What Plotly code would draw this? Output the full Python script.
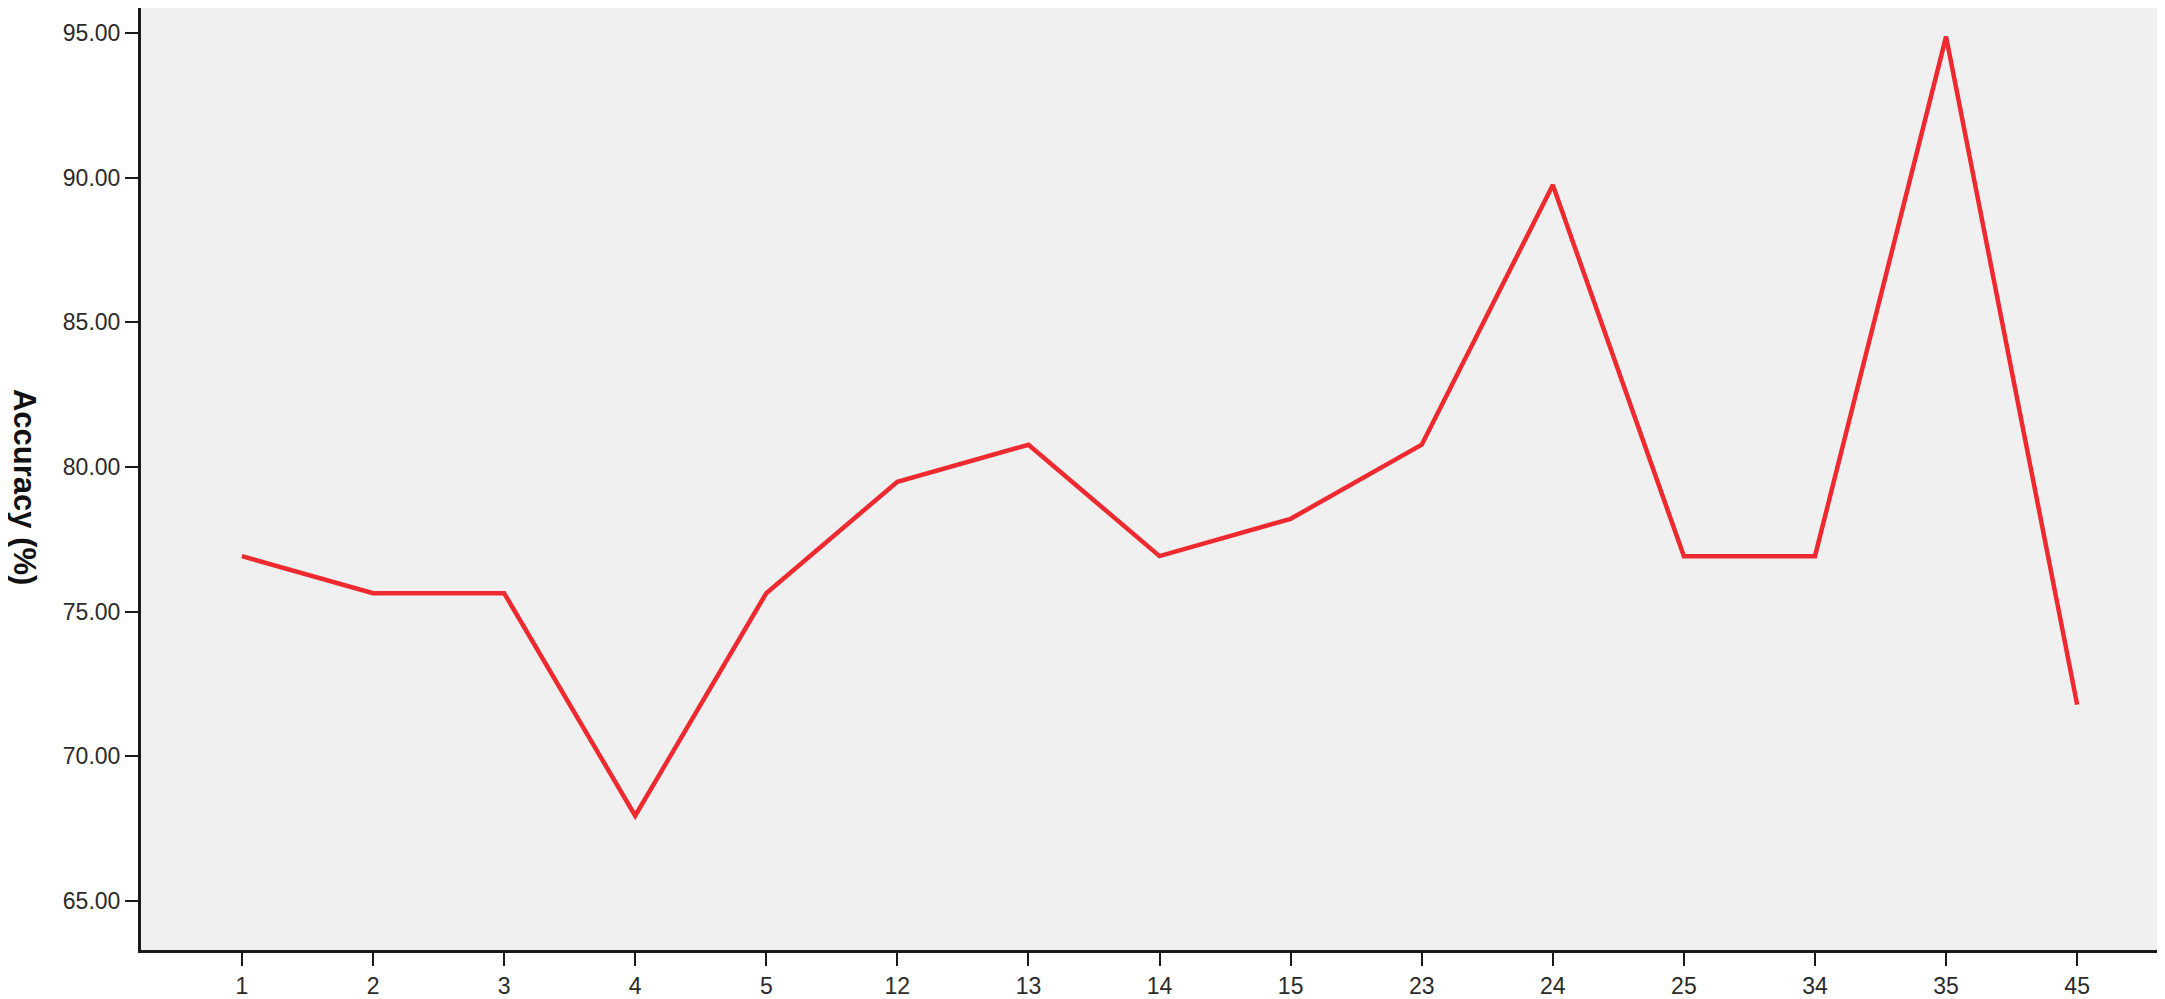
import plotly.graph_objects as go

# category labels on the x axis and accuracy values
categories = ["1", "2", "3", "4", "5", "12", "13", "14", "15", "23", "24", "25", "34", "35", "45"]
accuracy = [76.92, 75.64, 75.64, 67.95, 75.64, 79.49, 80.77, 76.92, 78.21, 80.77, 89.74, 76.92, 76.92, 94.87, 71.79]
y_ticks = [65, 70, 75, 80, 85, 90, 95]

fig = go.Figure()

fig.add_trace(go.Scatter(
    x=categories,
    y=accuracy,
    mode="lines",
    line=dict(color="#ee2a30", width=4.5),
    showlegend=False,
))

# the page body adds an 8px margin, so the figure is a little smaller than the window
fig.update_layout(
    width=2157,
    height=991,
    margin=dict(l=133, r=0, t=0, b=47),
    paper_bgcolor="white",
    plot_bgcolor="#f0f0f0",
    font=dict(family="Liberation Sans, Arial, sans-serif", size=23, color="#2a2a2a"),
)

axis_style = dict(
    showgrid=False,
    zeroline=False,
    showline=True,
    linecolor="#1a1a1a",
    linewidth=3,
    ticks="outside",
    ticklen=13,
    tickwidth=2,
    tickcolor="#1a1a1a",
    tickfont=dict(size=23),
)

fig.update_xaxes(type="category", range=[-0.77, 14.67], **axis_style)
fig.update_yaxes(range=[63.31, 95.86], tickvals=y_ticks, tickformat=".2f", **axis_style)

# y title reads top-to-bottom, as in the original
fig.add_annotation(
    text="<b>Accuracy (%)</b>",
    xref="paper", yref="paper",
    x=-0.0573, y=0.4915,
    xanchor="center", yanchor="middle",
    textangle=90,
    showarrow=False,
    font=dict(size=31, color="#111111"),
)

fig.write_html("out.html")
